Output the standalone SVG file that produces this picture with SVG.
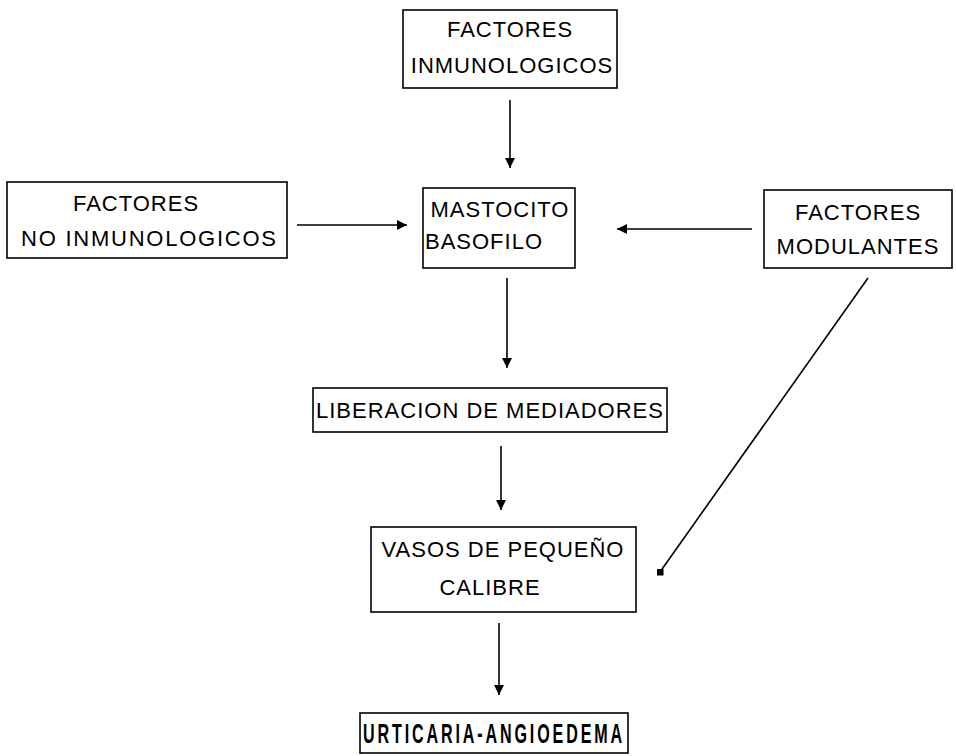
<svg xmlns="http://www.w3.org/2000/svg" width="956" height="756" viewBox="0 0 956 756">
<defs>
<marker id="tri" viewBox="0 0 10 10" refX="10" refY="5" markerWidth="10" markerHeight="10" markerUnits="userSpaceOnUse" orient="auto">
<path d="M0,0 L10,5 L0,10 Z" fill="#000"/>
</marker>
<marker id="sq" viewBox="0 0 10 10" refX="5" refY="5" markerWidth="7" markerHeight="7" markerUnits="userSpaceOnUse" orient="0">
<rect x="0" y="0" width="10" height="10" fill="#000"/>
</marker>
</defs>
<style>
.box{fill:#fff;stroke:#000;stroke-width:1.6}
.t{font-family:"Liberation Sans","DejaVu Sans",sans-serif;font-size:22px;letter-spacing:1px;fill:#000;text-anchor:middle}
.big{font-family:"Liberation Sans","DejaVu Sans",sans-serif;font-size:28px;letter-spacing:5px;font-weight:bold;fill:#000;text-anchor:middle}
.c{stroke:#000;stroke-width:1.6;fill:none}
</style>
<rect width="956" height="756" fill="#fff"/>
<g id="connectors">
<line class="c" x1="510" y1="100" x2="510" y2="168" marker-end="url(#tri)"/>
<line class="c" x1="297" y1="225" x2="407" y2="225" marker-end="url(#tri)"/>
<line class="c" x1="752" y1="229" x2="617" y2="229" marker-end="url(#tri)"/>
<line class="c" x1="507" y1="278" x2="507" y2="368" marker-end="url(#tri)"/>
<line class="c" x1="501" y1="446" x2="501" y2="510" marker-end="url(#tri)"/>
<line class="c" x1="868" y1="278" x2="660" y2="572" marker-end="url(#sq)"/>
<line class="c" x1="499" y1="623" x2="499" y2="695" marker-end="url(#tri)"/>
</g>
<g id="n-inmunologicos">
<rect class="box" x="403" y="10" width="214" height="78"/>
<text class="t" x="510" y="37">FACTORES</text>
<text class="t" x="512" y="73">INMUNOLOGICOS</text>
</g>
<g id="n-no-inmunologicos">
<rect class="box" x="7" y="182" width="280" height="76"/>
<text class="t" x="136" y="211">FACTORES</text>
<text class="t" x="149" y="246" textLength="256">NO INMUNOLOGICOS</text>
</g>
<g id="n-mastocito">
<rect class="box" x="423" y="188" width="152" height="80"/>
<text class="t" x="500" y="217">MASTOCITO</text>
<text class="t" x="484" y="249">BASOFILO</text>
</g>
<g id="n-modulantes">
<rect class="box" x="764" y="190" width="188" height="78"/>
<text class="t" x="858" y="220">FACTORES</text>
<text class="t" x="858" y="254">MODULANTES</text>
</g>
<g id="n-liberacion">
<rect class="box" x="313" y="388" width="354" height="44"/>
<text class="t" x="490" y="418">LIBERACION DE MEDIADORES</text>
</g>
<g id="n-vasos">
<rect class="box" x="371" y="527" width="265" height="85"/>
<text class="t" x="503" y="557">VASOS DE PEQUEÑO</text>
<text class="t" x="490" y="595">CALIBRE</text>
</g>
<g id="n-urticaria">
<rect class="box" x="360" y="713" width="268" height="40"/>
<text class="big" x="494" y="743" textLength="262" lengthAdjust="spacingAndGlyphs">URTICARIA-ANGIOEDEMA</text>
</g>
</svg>
